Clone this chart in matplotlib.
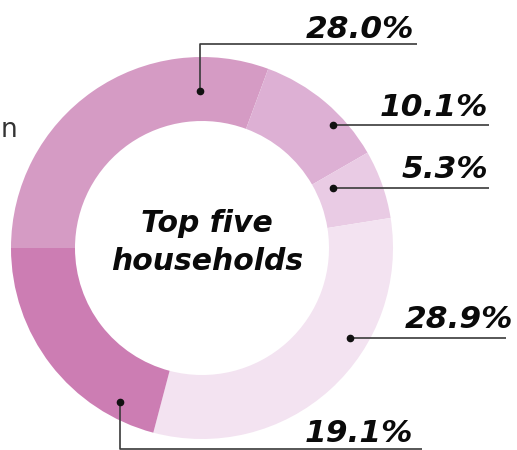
import matplotlib
matplotlib.use("Agg")
import matplotlib.pyplot as plt

# Data
labels = ["28.0%", "10.1%", "5.3%", "28.9%", "19.1%"]
values = [28.0, 10.1, 5.3, 28.9, 19.1]
colors = ["#d59bc4", "#ddb0d4", "#e9cbe4", "#f3e3f1", "#cc7db3"]
center_lines = ["Top five", "households"]

W, H = 517, 450
fig = plt.figure(figsize=(W / 100, H / 100), dpi=100)
ax = fig.add_axes([0, 0, 1, 1])

def Y(py):
    return H - py

cx, cy, R, r_in = 202, Y(248), 191, 127
ax.pie(values, colors=colors, startangle=180, counterclock=False,
       radius=R, center=(cx, cy), frame=True,
       wedgeprops=dict(width=R - r_in, linewidth=0))
ax.set_xlim(0, W)
ax.set_ylim(0, H)
ax.set_aspect("equal")
ax.axis("off")

# leader layout: (dot, path points, text right x, text baseline y)
layout = [
    ((200, 91), [(200, 44), (417, 44)], 414, 38),
    ((333, 125), [(489, 125)], 488, 116),
    ((333, 188), [(489, 188)], 488, 178),
    ((350, 338), [(506, 338)], 513, 328),
    ((120, 402), [(120, 449), (422, 449)], 413, 442),
]
font = dict(family="DejaVu Sans", weight="bold", style="oblique")
for lab, (dot, pts, tx, ty) in zip(labels, layout):
    xs = [dot[0]] + [p[0] for p in pts]
    ys = [Y(dot[1])] + [Y(p[1]) for p in pts]
    ax.plot(xs, ys, color="#3a3a3a", lw=1.2, solid_capstyle="butt", zorder=3)
    ax.plot([dot[0]], [Y(dot[1])], "o", color="#111111", ms=4.5, zorder=4)
    ax.text(tx, Y(ty), lab, ha="right", va="baseline", fontsize=22.5,
            color="#0a0a0a", **font)

ax.text(207, Y(232), center_lines[0], ha="center", va="baseline",
        fontsize=21.5, color="#0a0a0a", **font)
ax.text(207, Y(270), center_lines[1], ha="center", va="baseline",
        fontsize=21.5, color="#0a0a0a", **font)

# small text fragment at left edge
ax.text(1, Y(137), "n", ha="left", va="baseline", fontsize=19,
        color="#333333", family="DejaVu Sans")

fig.savefig("out.png", dpi=100)
